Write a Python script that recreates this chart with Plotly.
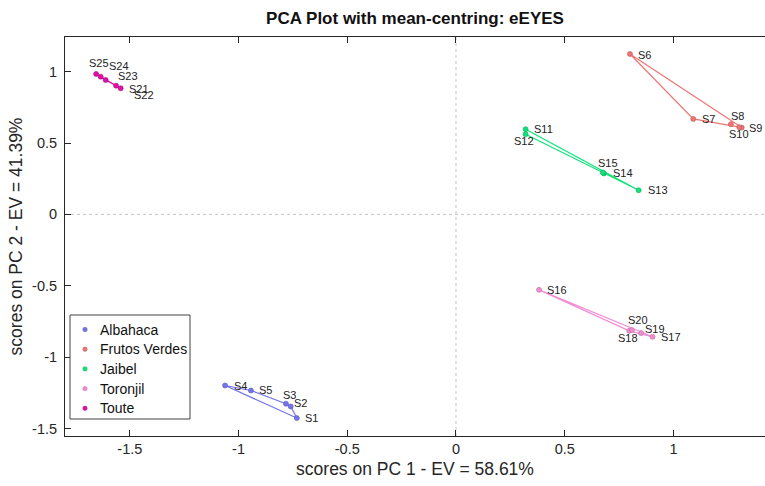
import plotly.graph_objects as go

# PCA scores (PC1, PC2) for each sample, grouped by variety
groups = ["Albahaca", "Frutos Verdes", "Jaibel", "Toronjil", "Toute"]
samples = {
    "Albahaca": ["S1", "S2", "S3", "S4", "S5"],
    "Frutos Verdes": ["S6", "S7", "S8", "S9", "S10"],
    "Jaibel": ["S11", "S12", "S13", "S14", "S15"],
    "Toronjil": ["S16", "S17", "S18", "S19", "S20"],
    "Toute": ["S21", "S22", "S23", "S24", "S25"],
}
pc1 = {
    "Albahaca": [-0.732, -0.760, -0.782, -1.062, -0.943],
    "Frutos Verdes": [0.800, 1.091, 1.264, 1.314, 1.303],
    "Jaibel": [0.320, 0.320, 0.840, 0.680, 0.675],
    "Toronjil": [0.382, 0.904, 0.797, 0.851, 0.809],
    "Toute": [-1.563, -1.542, -1.611, -1.634, -1.655],
}
pc2 = {
    "Albahaca": [-1.427, -1.346, -1.327, -1.199, -1.234],
    "Frutos Verdes": [1.124, 0.669, 0.632, 0.608, 0.611],
    "Jaibel": [0.597, 0.562, 0.169, 0.287, 0.294],
    "Toronjil": [-0.529, -0.858, -0.816, -0.832, -0.811],
    "Toute": [0.902, 0.884, 0.942, 0.965, 0.984],
}
ev_pc1 = 58.61
ev_pc2 = 41.39
tick_vals_x = [-1.5, -1, -0.5, 0, 0.5, 1]
tick_vals_y = [-1.5, -1, -0.5, 0, 0.5, 1]
tick_text = ["-1.5", "-1", "-0.5", "0", "0.5", "1"]

colors = {
    "Albahaca": "#7474ec",
    "Frutos Verdes": "#ef7474",
    "Jaibel": "#10e47a",
    "Toronjil": "#f08ed4",
    "Toute": "#e010a8",
}
edge = {
    "Albahaca": "#5a5ab8",
    "Frutos Verdes": "#b85a5a",
    "Jaibel": "#10a85a",
    "Toronjil": "#b86aa0",
    "Toute": "#a80a7c",
}

# pixel nudges for the sample labels (dx right, dy up)
label_shift = {
    "S1": (6, 0), "S2": (1, 3), "S3": (-5, 9), "S4": (7, -1), "S5": (6, 0),
    "S6": (6, -1), "S7": (7, 0), "S8": (-2, 8), "S9": (5, 0), "S10": (-12, -7),
    "S11": (6, 0), "S12": (-14, -7), "S13": (7, 0), "S14": (7, 0), "S15": (-7, 9),
    "S16": (6, 0), "S17": (6, 0), "S18": (-13, -7), "S19": (2, 4), "S20": (-6, 10),
    "S21": (11, -3), "S22": (11, -7), "S23": (10, 4), "S24": (6, 11), "S25": (-9, 11),
}

# figure geometry (pixels)
W, H = 765, 486
ML, MR, MT, MB = 65, 0, 37, 50
PW, PH = W - ML - MR, H - MT - MB


def px_to_paper(px, py):
    return (px - ML) / PW, (H - MB - py) / PH


def convex_hull(pts):
    pts = sorted(set(pts))
    if len(pts) < 3:
        return pts

    def cross(o, a, b):
        return (a[0] - o[0]) * (b[1] - o[1]) - (a[1] - o[1]) * (b[0] - o[0])

    lower, upper = [], []
    for p in pts:
        while len(lower) >= 2 and cross(lower[-2], lower[-1], p) <= 0:
            lower.pop()
        lower.append(p)
    for p in reversed(pts):
        while len(upper) >= 2 and cross(upper[-2], upper[-1], p) <= 0:
            upper.pop()
        upper.append(p)
    return lower[:-1] + upper[:-1]


fig = go.Figure()
annotations = []

for g in groups:
    hull = convex_hull(list(zip(pc1[g], pc2[g])))
    hull = hull + hull[:1]
    fig.add_trace(go.Scatter(
        x=[p[0] for p in hull], y=[p[1] for p in hull],
        mode="lines", line=dict(color=colors[g], width=1.2),
        showlegend=False, hoverinfo="skip",
    ))

for g in groups:
    fig.add_trace(go.Scatter(
        x=pc1[g], y=pc2[g], mode="markers", name=g, showlegend=False,
        marker=dict(size=5, color=colors[g], line=dict(color=edge[g], width=0.6)),
        text=samples[g],
    ))
    for s, xv, yv in zip(samples[g], pc1[g], pc2[g]):
        dx, dy = label_shift[s]
        annotations.append(dict(
            x=xv, y=yv, text=s, showarrow=False, xanchor="left", yanchor="middle",
            xshift=dx, yshift=dy, font=dict(size=11, color="#222222"),
        ))

x_range = [-1.798, 1.421]
y_range = [-1.553, 1.243]

# dotted reference lines through the origin
shapes = [
    dict(type="line", xref="x", yref="paper", x0=0, x1=0, y0=0, y1=1,
         line=dict(color="#c4c4c4", width=1, dash="dot"), layer="below"),
    dict(type="line", xref="paper", yref="y", x0=0, x1=1, y0=0, y1=0,
         line=dict(color="#c4c4c4", width=1, dash="dot"), layer="below"),
]

# compact legend box in the lower-left corner
lx0, ly0 = px_to_paper(70, 315)
lx1, ly1 = px_to_paper(190, 419)
shapes.append(dict(type="rect", xref="paper", yref="paper", x0=lx0, x1=lx1,
                   y0=ly1, y1=ly0, line=dict(color="#404040", width=1),
                   fillcolor="white", layer="above"))
for i, g in enumerate(groups):
    cy = 329.5 + i * 19.7
    dxp, dyp = px_to_paper(85, cy)
    shapes.append(dict(type="circle", xref="paper", yref="paper",
                       xsizemode="pixel", ysizemode="pixel",
                       xanchor=dxp, yanchor=dyp, x0=-2.2, x1=2.2, y0=-2.2, y1=2.2,
                       fillcolor=colors[g], line=dict(color=edge[g], width=0.5),
                       layer="above"))
    tx, ty = px_to_paper(98, cy)
    annotations.append(dict(x=tx, y=ty, xref="paper", yref="paper", text=g,
                            showarrow=False, xanchor="left", yanchor="middle",
                            font=dict(size=14, color="#111111")))

fig.update_layout(
    width=W, height=H,
    margin=dict(l=ML, r=MR, t=MT, b=MB),
    paper_bgcolor="white", plot_bgcolor="white",
    showlegend=False,
    font=dict(family="Liberation Sans, Arial, sans-serif", color="#262626"),
    title=dict(text="<b>PCA Plot with mean-centring: eEYES</b>", x=0.5, xref="paper",
               xanchor="center", y=0.963, yanchor="middle",
               font=dict(size=17, color="#111111")),
    xaxis=dict(range=x_range, tickvals=tick_vals_x, ticktext=tick_text,
               ticks="inside", ticklen=6, tickcolor="#262626", showline=True,
               linecolor="#262626", linewidth=1, mirror="ticks", showgrid=False,
               zeroline=False, tickfont=dict(size=14.5),
               title=dict(text=f"scores on PC 1 - EV = {ev_pc1:.2f}%",
                          font=dict(size=17.5), standoff=6)),
    yaxis=dict(range=y_range, tickvals=tick_vals_y, ticktext=tick_text,
               ticks="inside", ticklen=6, tickcolor="#262626", showline=True,
               linecolor="#262626", linewidth=1, showgrid=False, zeroline=False,
               tickfont=dict(size=14.5), ticklabelstandoff=4,
               title=dict(text=f"scores on PC 2 - EV = {ev_pc2:.2f}%",
                          font=dict(size=17.5), standoff=4)),
    shapes=shapes,
    annotations=annotations,
)

fig.write_html("out.html")
